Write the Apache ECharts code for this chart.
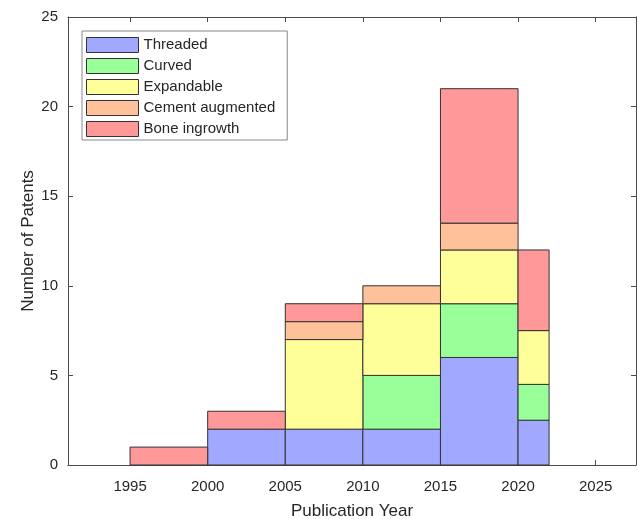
<!DOCTYPE html>
<html>
<head>
<meta charset="utf-8">
<script src="https://cdn.jsdelivr.net/npm/echarts@6/dist/echarts.min.js"></script>
<style>html,body{margin:0;padding:0;background:#fff;}#c{width:638px;height:519px;}</style>
</head>
<body>
<div id="c"></div>
<script>
const binStart = [1995, 2000, 2005, 2010, 2015, 2020];
const binEnd = [2000, 2005, 2010, 2015, 2020, 2022];
const seriesNames = ['Threaded', 'Curved', 'Expandable', 'Cement augmented', 'Bone ingrowth'];
const threaded = [0, 2, 2, 2, 6, 2.5];
const curved = [0, 0, 0, 3, 3, 2];
const expandable = [0, 0, 5, 4, 3, 3];
const cement = [0, 0, 1, 1, 1.5, 0];
const bone = [1, 1, 1, 0, 7.5, 4.5];
const xTicks = [1995, 2000, 2005, 2010, 2015, 2020, 2025];
const yTicks = [0, 5, 10, 15, 20, 25];

const colors = ['#a1a8ff', '#99ff99', '#ffff99', '#ffc199', '#ff9999'];
const values = [threaded, curved, expandable, cement, bone];
const base = binStart.map(() => 0);
const series = values.map((vals, si) => {
  const data = [];
  vals.forEach((v, i) => {
    if (v > 0) data.push([binStart[i], binEnd[i], base[i], base[i] + v]);
    base[i] += v;
  });
  return {
    name: seriesNames[si],
    type: 'custom',
    itemStyle: { color: colors[si], borderColor: '#333', borderWidth: 1 },
    encode: { x: [0, 1], y: [2, 3] },
    renderItem: function (params, api) {
      const p0 = api.coord([api.value(0), api.value(2)]);
      const p1 = api.coord([api.value(1), api.value(3)]);
      return {
        type: 'rect',
        shape: { x: p0[0], y: p1[1], width: p1[0] - p0[0], height: p0[1] - p1[1] },
        style: { fill: colors[si], stroke: '#333', lineWidth: 1 }
      };
    },
    data: data
  };
});

const axisColor = '#4a4a4a';
const textColor = '#262626';
const font = 'Arial, Liberation Sans';
const chart = echarts.init(document.getElementById('c'), null, { renderer: 'canvas' });
chart.setOption({
  animation: false,
  backgroundColor: '#fff',
  grid: { left: 68, right: 2, top: 17, bottom: 54, outerBoundsMode: 'none', containLabel: false },
  legend: {
    orient: 'vertical',
    left: 82,
    top: 31,
    padding: [6, 12, 3, 4],
    itemWidth: 52,
    itemHeight: 15,
    itemGap: 5,
    icon: 'rect',
    borderColor: '#888',
    borderWidth: 1,
    backgroundColor: '#fff',
    textStyle: { fontFamily: font, fontSize: 15, lineHeight: 16, color: textColor },
    itemStyle: { borderColor: '#333', borderWidth: 1 },
    data: seriesNames
  },
  xAxis: [{
    type: 'value', min: 1991, max: 2027.6,
    name: 'Publication Year', nameLocation: 'middle', nameGap: 38, nameMoveOverlap: false,
    nameTextStyle: { fontFamily: font, fontSize: 17, color: textColor },
    axisLine: { show: true, onZero: false, lineStyle: { color: axisColor } },
    axisTick: { show: true, inside: true, length: 5, customValues: xTicks, lineStyle: { color: axisColor } },
    axisLabel: { customValues: xTicks, formatter: v => String(v), fontFamily: font, fontSize: 15, color: textColor, margin: 14 },
    splitLine: { show: false }
  }, {
    type: 'value', min: 1991, max: 2027.6, position: 'top',
    axisLine: { show: true, onZero: false, lineStyle: { color: axisColor } },
    axisTick: { show: true, inside: true, length: 5, customValues: xTicks, lineStyle: { color: axisColor } },
    axisLabel: { show: false },
    splitLine: { show: false }
  }],
  yAxis: [{
    type: 'value', min: 0, max: 25, interval: 5,
    name: 'Number of Patents', nameLocation: 'middle', nameGap: 31, nameMoveOverlap: false,
    nameTextStyle: { fontFamily: font, fontSize: 17, color: textColor },
    axisLine: { show: true, onZero: false, lineStyle: { color: axisColor } },
    axisTick: { show: true, inside: true, length: 5, lineStyle: { color: axisColor } },
    axisLabel: { fontFamily: font, fontSize: 15, color: textColor, margin: 10 },
    splitLine: { show: false }
  }, {
    type: 'value', min: 0, max: 25, interval: 5, position: 'right',
    axisLine: { show: true, onZero: false, lineStyle: { color: axisColor } },
    axisTick: { show: true, inside: true, length: 5, lineStyle: { color: axisColor } },
    axisLabel: { show: false },
    splitLine: { show: false }
  }],
  series: series
});
</script>
</body>
</html>
